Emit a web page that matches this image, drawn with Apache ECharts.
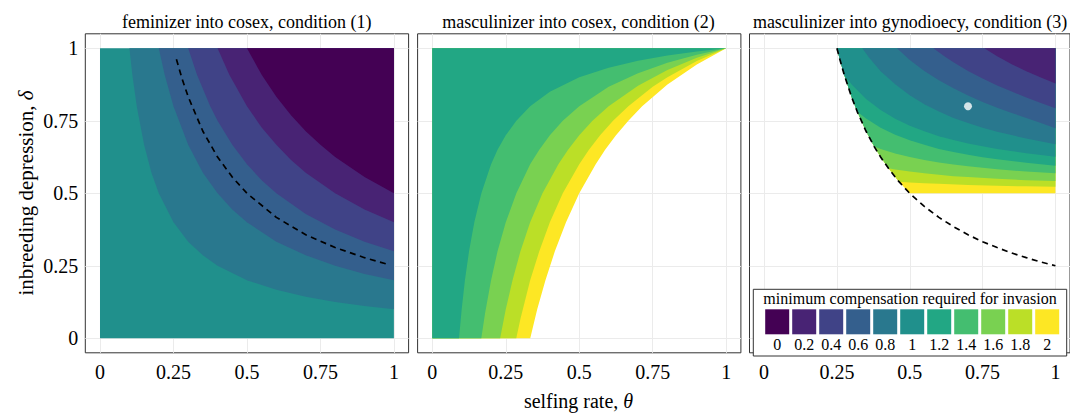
<!DOCTYPE html>
<html>
<head>
<meta charset="utf-8">
<script src="https://cdn.jsdelivr.net/npm/echarts@6/dist/echarts.min.js"></script>
<style>
html,body{margin:0;padding:0;background:#fff;}
#chart{width:1070px;height:414px;}
</style>
</head>
<body>
<div id="chart"></div>
<script>
// legend steps (viridis, 11 classes)
var legendLabels = ['0','0.2','0.4','0.6','0.8','1','1.2','1.4','1.6','1.8','2'];
var legendColors = ['#440154','#482374','#404387','#345F8D','#29788E','#20908C','#22A784','#44BE70','#79D151','#BBDF27','#FDE724'];
var tickValues = [0, 0.25, 0.5, 0.75, 1];

// panel 1 : feminizer into cosex, contour borders [theta, delta]
var femSquare = [[0,0],[1,0]];
var fem1 = [[0.1,1],[0.11,0.909],[0.125,0.8],[0.15,0.667],[0.175,0.571],[0.2,0.5],[0.25,0.4],[0.3,0.333],[0.35,0.286],[0.4,0.25],[0.5,0.2],[0.6,0.167],[0.7,0.143],[0.8,0.125],[0.9,0.111],[1,0.1]];
var fem2 = [[0.2,1],[0.22,0.909],[0.25,0.8],[0.3,0.667],[0.35,0.571],[0.4,0.5],[0.45,0.444],[0.5,0.4],[0.6,0.333],[0.7,0.286],[0.8,0.25],[0.9,0.222],[1,0.2]];
var fem3 = [[0.3,1],[0.33,0.909],[0.375,0.8],[0.4,0.75],[0.45,0.667],[0.5,0.6],[0.55,0.545],[0.6,0.5],[0.7,0.429],[0.8,0.375],[0.9,0.333],[1,0.3]];
var fem4 = [[0.4,1],[0.44,0.909],[0.5,0.8],[0.55,0.727],[0.6,0.667],[0.65,0.615],[0.7,0.571],[0.8,0.5],[0.9,0.444],[1,0.4]];
var fem5 = [[0.5,1],[0.55,0.909],[0.6,0.833],[0.65,0.769],[0.7,0.714],[0.75,0.667],[0.8,0.625],[0.9,0.556],[1,0.5]];
var femDash = [[0.26,0.962],[0.28,0.893],[0.3,0.833],[0.35,0.714],[0.4,0.625],[0.45,0.556],[0.5,0.5],[0.6,0.417],[0.7,0.357],[0.8,0.313],[0.9,0.278],[0.98,0.255]];

// panel 2 : masculinizer into cosex
var mc12 = [[0.0909,0],[0.1,0.1],[0.111,0.2],[0.125,0.3],[0.143,0.4],[0.167,0.5],[0.2,0.6],[0.222,0.65],[0.25,0.7],[0.286,0.75],[0.333,0.8],[0.4,0.85],[0.5,0.9],[0.6,0.933],[0.7,0.957],[0.8,0.975],[0.9,0.989],[1,1]];
var mc14 = [[0.1667,0],[0.18,0.089],[0.2,0.2],[0.222,0.3],[0.25,0.4],[0.286,0.5],[0.333,0.6],[0.364,0.65],[0.4,0.7],[0.444,0.75],[0.5,0.8],[0.6,0.867],[0.7,0.914],[0.8,0.95],[0.9,0.978],[1,1]];
var mc16 = [[0.2308,0],[0.25,0.1],[0.273,0.2],[0.3,0.3],[0.333,0.4],[0.375,0.5],[0.429,0.6],[0.462,0.65],[0.5,0.7],[0.545,0.75],[0.6,0.8],[0.7,0.871],[0.8,0.925],[0.9,0.967],[1,1]];
var mc18 = [[0.2857,0],[0.3,0.067],[0.333,0.2],[0.364,0.3],[0.4,0.4],[0.444,0.5],[0.5,0.6],[0.533,0.65],[0.571,0.7],[0.615,0.75],[0.667,0.8],[0.75,0.867],[0.8,0.9],[0.9,0.956],[1,1]];
var mc20 = [[0.3333,0],[0.357,0.1],[0.385,0.2],[0.417,0.3],[0.455,0.4],[0.5,0.5],[0.556,0.6],[0.588,0.65],[0.625,0.7],[0.667,0.75],[0.714,0.8],[0.8,0.875],[0.9,0.944],[1,1]];

// panel 3 : masculinizer into gynodioecy
var gynoDash = [[0.25,1],[0.26,0.962],[0.275,0.909],[0.3,0.833],[0.32,0.781],[0.35,0.714],[0.378,0.661],[0.4,0.625],[0.427,0.586],[0.45,0.556],[0.463,0.54],[0.5,0.5],[0.55,0.455],[0.6,0.417],[0.65,0.385],[0.7,0.357],[0.75,0.333],[0.8,0.313],[0.85,0.294],[0.9,0.278],[0.95,0.263],[1,0.25]];
var gyno20 = [[0.5,0.5],[1,0.5]];
var gyno18 = [[0.463,0.54],[0.5,0.537],[0.55,0.535],[0.6,0.533],[0.7,0.529],[0.8,0.526],[0.9,0.524],[1,0.523]];
var gyno16 = [[0.427,0.586],[0.45,0.582],[0.5,0.575],[0.55,0.569],[0.6,0.564],[0.65,0.559],[0.7,0.556],[0.8,0.55],[0.9,0.545],[1,0.542]];
var gyno14 = [[0.378,0.661],[0.4,0.653],[0.45,0.637],[0.5,0.625],[0.55,0.615],[0.6,0.606],[0.65,0.599],[0.7,0.593],[0.75,0.588],[0.8,0.583],[0.9,0.575],[1,0.569]];
var gyno12 = [[0.32,0.781],[0.35,0.758],[0.4,0.726],[0.45,0.702],[0.5,0.683],[0.55,0.667],[0.6,0.653],[0.65,0.642],[0.7,0.633],[0.75,0.624],[0.8,0.617],[0.9,0.605],[1,0.595]];
var gyno10 = [[0.275,0.908],[0.3,0.876],[0.35,0.825],[0.4,0.787],[0.45,0.757],[0.5,0.733],[0.55,0.714],[0.6,0.697],[0.65,0.684],[0.7,0.672],[0.75,0.662],[0.8,0.653],[0.9,0.638],[1,0.626]];
var gyno08 = [[0.337,1],[0.36,0.968],[0.4,0.921],[0.45,0.876],[0.5,0.838],[0.55,0.807],[0.6,0.782],[0.65,0.76],[0.7,0.742],[0.75,0.726],[0.8,0.712],[0.9,0.689],[1,0.669]];
var gyno06 = [[0.456,1],[0.5,0.96],[0.55,0.922],[0.6,0.89],[0.65,0.862],[0.7,0.837],[0.75,0.815],[0.8,0.795],[0.85,0.777],[0.9,0.76],[0.95,0.742],[1,0.724]];
var gyno04 = [[0.581,1],[0.62,0.972],[0.65,0.952],[0.7,0.922],[0.75,0.896],[0.8,0.872],[0.85,0.851],[0.9,0.83],[0.95,0.811],[1,0.793]];
var gyno02 = [[0.756,1],[0.8,0.973],[0.85,0.945],[0.9,0.921],[0.95,0.899],[1,0.879]];
var gynoPoint = [[0.7,0.8]];

var serif = '"Liberation Serif","DejaVu Serif",serif';

// one filled band : everything between the border and delta = 1
function band(g, pts, color){
	return {
		type:'line', xAxisIndex:g, yAxisIndex:g, data:pts,
		symbol:'none', silent:true, animation:false,
		lineStyle:{opacity:0},
		areaStyle:{origin:1, color:color, opacity:1},
		z:2
	};
}
function dashLine(g, pts){
	return {
		type:'line', xAxisIndex:g, yAxisIndex:g, data:pts,
		symbol:'none', silent:true, animation:false,
		lineStyle:{color:'#000', width:1.7, type:[6,4.5]},
		z:4
	};
}
// borders of panel 3 start on the dashed curve
function onDash(pts){
	var start = pts[0][0];
	return gynoDash.filter(function(p){ return p[0] < start; }).concat(pts);
}
function fromZero(pts){
	return [[0,0]].concat(pts);
}

var series = [];
// panel 1
series.push(band(0, femSquare, legendColors[5]));
series.push(band(0, fem1, legendColors[4]));
series.push(band(0, fem2, legendColors[3]));
series.push(band(0, fem3, legendColors[2]));
series.push(band(0, fem4, legendColors[1]));
series.push(band(0, fem5, legendColors[0]));
series.push(dashLine(0, femDash));
// panel 2
series.push(band(1, fromZero(mc20), legendColors[10]));
series.push(band(1, fromZero(mc18), legendColors[9]));
series.push(band(1, fromZero(mc16), legendColors[8]));
series.push(band(1, fromZero(mc14), legendColors[7]));
series.push(band(1, fromZero(mc12), legendColors[6]));
// panel 3
series.push(band(2, onDash(gyno20), legendColors[10]));
series.push(band(2, onDash(gyno18), legendColors[9]));
series.push(band(2, onDash(gyno16), legendColors[8]));
series.push(band(2, onDash(gyno14), legendColors[7]));
series.push(band(2, onDash(gyno12), legendColors[6]));
series.push(band(2, onDash(gyno10), legendColors[5]));
series.push(band(2, gyno08, legendColors[4]));
series.push(band(2, gyno06, legendColors[3]));
series.push(band(2, gyno04, legendColors[2]));
series.push(band(2, gyno02, legendColors[1]));
series.push(dashLine(2, gynoDash));
series.push({
	type:'scatter', xAxisIndex:2, yAxisIndex:2, data:gynoPoint,
	symbolSize:8, itemStyle:{color:'#fff'}, silent:true, animation:false, z:5
});
// legend swatches
series.push({
	type:'bar', xAxisIndex:3, yAxisIndex:3, barWidth:24,
	data:legendColors.map(function(c){ return {value:1, itemStyle:{color:c}}; }),
	silent:true, animation:false, z:30
});

var panelLeft = [85.3, 417.6, 749.5];
var grids = [], xAxes = [], yAxes = [];
for(var i=0;i<3;i++){
	grids.push({left:panelLeft[i], top:33.8, width:323.3, height:319,
		show:true, borderColor:'#333', borderWidth:1, backgroundColor:'transparent'});
	xAxes.push({gridIndex:i, type:'value', min:-0.05, max:1.05,
		axisLine:{show:false}, axisTick:{show:false, customValues:tickValues},
		axisLabel:{customValues:tickValues, margin:9, color:'#000', fontSize:20, fontFamily:serif},
		splitLine:{show:true, lineStyle:{color:'#EBEBEB', width:1}}});
	yAxes.push({gridIndex:i, type:'value', min:-0.05, max:1.05,
		axisLine:{show:false}, axisTick:{show:false, customValues:tickValues},
		axisLabel:{show:i==0, customValues:tickValues, margin:7, color:'#000', fontSize:20, fontFamily:serif},
		splitLine:{show:true, lineStyle:{color:'#EBEBEB', width:1}}});
}
// legend grid
grids.push({left:763.7, top:309.3, width:297, height:25, show:false});
xAxes.push({gridIndex:3, type:'category', data:legendLabels, z:30,
	axisLine:{show:false}, axisTick:{show:false},
	axisLabel:{margin:2, color:'#000', fontSize:16, fontFamily:serif, interval:0}});
yAxes.push({gridIndex:3, type:'value', min:0, max:1, show:false});

function label(x, y, text, size){
	return {type:'text', x:x, y:y, silent:true,
		style:{text:text, fill:'#000', font:size+'px '+serif, textAlign:'center', textVerticalAlign:'middle'}};
}

var option = {
	backgroundColor:'#fff',
	animation:false,
	grid:grids,
	xAxis:xAxes,
	yAxis:yAxes,
	series:series,
	graphic:[
		label(246.7, 22, 'feminizer into cosex, condition (1)', 18),
		label(578.5, 22, 'masculinizer into cosex, condition (2)', 18),
		label(910, 22, 'masculinizer into gynodioecy, condition (3)', 18),
		{type:'text', x:578.5, y:401, silent:true,
			style:{text:'{a|selfing rate, }{b|θ}', textAlign:'center', textVerticalAlign:'middle',
				rich:{a:{font:'20px '+serif, fill:'#000'}, b:{font:'italic 20px '+serif, fill:'#000'}}}},
		{type:'text', x:26, y:193, rotation:Math.PI/2, silent:true,
			style:{text:'{a|inbreeding depression, }{b|δ}', textAlign:'center', textVerticalAlign:'middle',
				rich:{a:{font:'21px '+serif, fill:'#000'}, b:{font:'italic 21px '+serif, fill:'#000'}}}},
		//图例的框
		{type:'rect', z:20, silent:true,
			shape:{x:753.3, y:289.3, width:313.4, height:66.7},
			style:{fill:'#fff', stroke:'#333', lineWidth:1}},
		{type:'text', x:910, y:298, z:31, silent:true,
			style:{text:'minimum compensation required for invasion', fill:'#000', font:'16px '+serif, textAlign:'center', textVerticalAlign:'middle'}}
	]
};

var myChart = echarts.init(document.getElementById('chart'), null, {renderer:'svg'});
myChart.setOption(option);
</script>
</body>
</html>
